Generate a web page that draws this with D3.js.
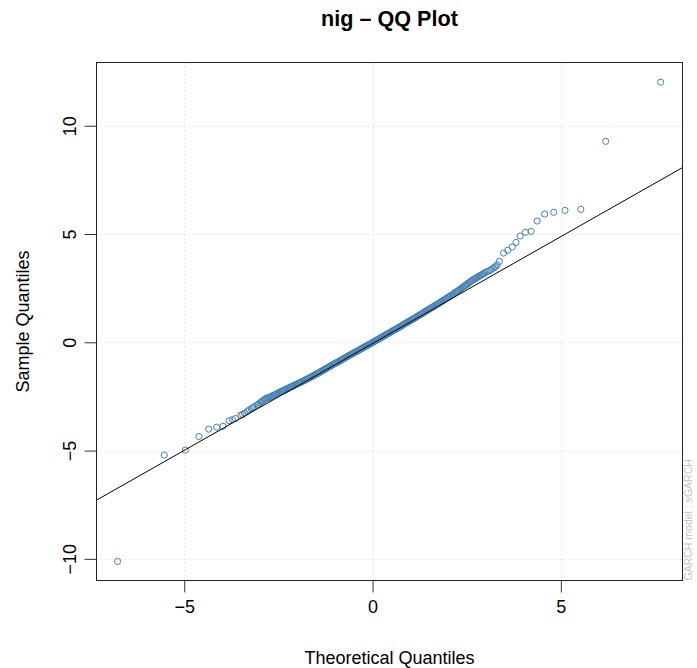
<!DOCTYPE html>
<html lang="en">
<head>
    <meta charset="UTF-8">
    <title>nig - QQ Plot</title>
    <script src="https://d3js.org/d3.v7.min.js"></script>
    <style>
        body { margin: 0; background: #fff; }
        text { font-family: "Liberation Sans", Arial, Helvetica, sans-serif; }
    </style>
</head>
<body>
<script>

    // theoretical (nig) quantiles and sorted standardized residuals
    // (the middle of the plot is a dense band, so it is sampled finely)
    var theoretical = [
        -6.77, -5.53, -4.97, -4.61, -4.35, -4.14, -3.97, -3.81, -3.72, -3.64,
        -3.50, -3.40, -3.32, -3.22, -3.14, -3.07, -2.99, -2.93, -2.87, -2.81,
        -3.45, -3.27, -3.18, -3.03, -2.96, -2.90, -2.84,
        -2.78, -2.75, -2.72, -2.69, -2.66, -2.63, -2.60, -2.57, -2.54, -2.51,
        -2.48, -2.45, -2.42, -2.39, -2.36, -2.33, -2.30, -2.27, -2.24, -2.21,
        -2.18, -2.15, -2.12, -2.09, -2.06, -2.03, -2.00, -1.97, -1.94, -1.91,
        -1.88, -1.85, -1.82, -1.79, -1.76, -1.73, -1.70, -1.67, -1.64, -1.61,
        -1.58, -1.55, -1.52, -1.49, -1.46, -1.43, -1.40, -1.37, -1.34, -1.31,
        -1.28, -1.25, -1.22, -1.19, -1.16, -1.13, -1.10, -1.07, -1.04, -1.01,
        -0.98, -0.95, -0.92, -0.89, -0.86, -0.83, -0.80, -0.77, -0.74, -0.71,
        -0.68, -0.65, -0.62, -0.59, -0.56, -0.53, -0.50, -0.47, -0.44, -0.41,
        -0.38, -0.35, -0.32, -0.29, -0.26, -0.23, -0.20, -0.17, -0.14, -0.11,
        -0.08, -0.05, -0.02, 0.01, 0.04, 0.07, 0.10, 0.13, 0.16, 0.19,
        0.22, 0.25, 0.28, 0.31, 0.34, 0.37, 0.40, 0.43, 0.46, 0.49,
        0.52, 0.55, 0.58, 0.61, 0.64, 0.67, 0.70, 0.73, 0.76, 0.79,
        0.82, 0.85, 0.88, 0.91, 0.94, 0.97, 1.00, 1.03, 1.06, 1.09,
        1.12, 1.15, 1.18, 1.21, 1.24, 1.27, 1.30, 1.33, 1.36, 1.39,
        1.42, 1.45, 1.48, 1.51, 1.54, 1.57, 1.60, 1.63, 1.66, 1.69,
        1.72, 1.75, 1.78, 1.81, 1.84, 1.87, 1.90, 1.93, 1.96, 1.99,
        2.02, 2.05, 2.08, 2.11, 2.14, 2.17, 2.20, 2.23, 2.26, 2.29,
        2.32, 2.35, 2.38, 2.41, 2.44, 2.47, 2.50, 2.53, 2.56, 2.59,
        2.62, 2.65, 2.68, 2.71, 2.74, 2.77, 2.80, 2.83, 2.86, 2.89,
        2.92, 2.95, 2.98, 3.02,
        3.07, 3.16, 3.24, 3.31,
        3.12, 3.20, 3.27, 3.37, 3.48, 3.59, 3.71, 3.81, 3.92, 4.06,
        4.21, 4.37, 4.57, 4.81, 5.11, 5.53, 6.19, 7.65
    ];
    var sample = [
        -10.12, -5.21, -4.98, -4.35, -4.01, -3.92, -3.88, -3.62, -3.57, -3.52,
        -3.37, -3.27, -3.18, -3.07, -2.97, -2.90, -2.80, -2.72, -2.65, -2.57,
        -3.33, -3.12, -3.02, -2.85, -2.76, -2.69, -2.61,
        -2.58, -2.56, -2.53, -2.51, -2.47, -2.46, -2.42, -2.40, -2.38, -2.35,
        -2.31, -2.30, -2.27, -2.25, -2.22, -2.20, -2.17, -2.15, -2.12, -2.10,
        -2.07, -2.05, -2.02, -2.00, -1.97, -1.95, -1.92, -1.90, -1.87, -1.85,
        -1.82, -1.80, -1.77, -1.74, -1.72, -1.69, -1.66, -1.64, -1.61, -1.58,
        -1.55, -1.52, -1.49, -1.46, -1.44, -1.41, -1.38, -1.35, -1.32, -1.29,
        -1.26, -1.23, -1.20, -1.17, -1.14, -1.11, -1.08, -1.05, -1.02, -0.99,
        -0.96, -0.94, -0.91, -0.88, -0.85, -0.82, -0.79, -0.76, -0.73, -0.70,
        -0.67, -0.64, -0.61, -0.58, -0.55, -0.52, -0.49, -0.46, -0.44, -0.41,
        -0.38, -0.35, -0.32, -0.29, -0.26, -0.23, -0.20, -0.17, -0.15, -0.12,
        -0.09, -0.06, -0.03, 0.00, 0.03, 0.06, 0.09, 0.12, 0.15, 0.18,
        0.21, 0.24, 0.27, 0.30, 0.33, 0.36, 0.39, 0.42, 0.45, 0.48,
        0.51, 0.54, 0.57, 0.60, 0.63, 0.66, 0.69, 0.72, 0.75, 0.78,
        0.82, 0.85, 0.88, 0.91, 0.94, 0.97, 1.00, 1.03, 1.06, 1.09,
        1.12, 1.15, 1.19, 1.22, 1.25, 1.28, 1.31, 1.34, 1.38, 1.41,
        1.44, 1.47, 1.50, 1.54, 1.57, 1.60, 1.63, 1.66, 1.70, 1.73,
        1.76, 1.79, 1.83, 1.86, 1.89, 1.92, 1.96, 1.99, 2.02, 2.06,
        2.09, 2.12, 2.16, 2.19, 2.22, 2.26, 2.30, 2.33, 2.37, 2.40,
        2.44, 2.48, 2.52, 2.56, 2.60, 2.63, 2.67, 2.71, 2.75, 2.79,
        2.83, 2.86, 2.90, 2.93, 2.96, 2.99, 3.02, 3.05, 3.08, 3.11,
        3.14, 3.17, 3.21, 3.25,
        3.28, 3.37, 3.46, 3.58,
        3.32, 3.42, 3.50, 3.74, 4.12, 4.25, 4.40, 4.61, 4.91, 5.08,
        5.12, 5.60, 5.92, 6.00, 6.09, 6.14, 9.28, 12.01
    ];

    var xTicks = [-5, 0, 5];
    var yTicks = [-10, -5, 0, 5, 10];

    // qqline through the quartiles
    var lineSlope = 0.987;
    var lineIntercept = -0.055;

    var titleText = "nig \u2013 QQ Plot";
    var xLabel = "Theoretical Quantiles";
    var yLabel = "Sample Quantiles";
    var sideNote = "GARCH model : sGARCH";

    var width = 697;
    var height = 668;
    var plot = { left: 96.5, right: 682.5, top: 62.5, bottom: 580.5 };

    var svg = d3.select("body")
        .append("svg")
        .attr("width", width)
        .attr("height", height);

    var x = d3.scaleLinear()
        .domain([-7.33, 8.23])
        .range([plot.left, plot.right]);

    var y = d3.scaleLinear()
        .domain([-11.0, 12.92])
        .range([plot.bottom, plot.top]);

    svg.append("clipPath")
        .attr("id", "plotclip")
        .append("rect")
        .attr("x", plot.left)
        .attr("y", plot.top)
        .attr("width", plot.right - plot.left)
        .attr("height", plot.bottom - plot.top);

    // dotted grid
    svg.selectAll(".vgrid")
        .data(xTicks)
        .enter()
        .append("line")
        .attr("class", "vgrid")
        .attr("x1", function(d) { return Math.round(x(d)) + 0.5; })
        .attr("x2", function(d) { return Math.round(x(d)) + 0.5; })
        .attr("y1", plot.top)
        .attr("y2", plot.bottom)
        .style("stroke", "#d3d3d3")
        .style("stroke-dasharray", "1,3");

    svg.selectAll(".hgrid")
        .data(yTicks)
        .enter()
        .append("line")
        .attr("class", "hgrid")
        .attr("y1", function(d) { return Math.round(y(d)) + 0.5; })
        .attr("y2", function(d) { return Math.round(y(d)) + 0.5; })
        .attr("x1", plot.left)
        .attr("x2", plot.right)
        .style("stroke", "#d3d3d3")
        .style("stroke-dasharray", "1,3");

    // points
    var n = Math.min(theoretical.length, sample.length);
    var pts = [];
    for (var i = 0; i < n; i++) {
        pts.push({ t: theoretical[i], s: sample[i] });
    }

    svg.append("g")
        .attr("clip-path", "url(#plotclip)")
        .selectAll("circle")
        .data(pts)
        .enter()
        .append("circle")
        .attr("cx", function(d) { return x(d.t); })
        .attr("cy", function(d) { return y(d.s); })
        .attr("r", 3.1)
        .style("fill", "none")
        .style("stroke", "steelblue")
        .style("stroke-width", 1);

    // qqline
    var xd = x.domain();
    svg.append("line")
        .attr("clip-path", "url(#plotclip)")
        .attr("x1", x(xd[0]))
        .attr("y1", y(lineIntercept + lineSlope * xd[0]))
        .attr("x2", x(xd[1]))
        .attr("y2", y(lineIntercept + lineSlope * xd[1]))
        .style("stroke", "#000")
        .style("stroke-width", 1);

    // frame
    svg.append("rect")
        .attr("x", plot.left)
        .attr("y", plot.top)
        .attr("width", plot.right - plot.left)
        .attr("height", plot.bottom - plot.top)
        .style("fill", "none")
        .style("stroke", "#222")
        .style("stroke-width", 1);

    // axes
    var minusFmt = function(d) { return d < 0 ? "\u2212" + Math.abs(d) : d; };

    var gx = svg.append("g")
        .attr("transform", "translate(0," + plot.bottom + ")")
        .call(d3.axisBottom(x).tickValues(xTicks).tickSize(12).tickPadding(8).tickFormat(minusFmt));
    gx.select(".domain").remove();
    gx.selectAll("line").style("stroke", "#333");
    gx.selectAll("text")
        .style("font-size", "18px")
        .style("fill", "#000")
        .attr("font-family", null);

    var gy = svg.append("g")
        .attr("transform", "translate(" + plot.left + ",0)")
        .call(d3.axisLeft(y).tickValues(yTicks).tickSize(12).tickPadding(8).tickFormat(minusFmt));
    gy.select(".domain").remove();
    gy.selectAll("line").style("stroke", "#333");
    gy.selectAll("text")
        .style("font-size", "18px")
        .style("fill", "#000")
        .attr("font-family", null)
        .attr("x", null)
        .attr("dy", null)
        .attr("text-anchor", "middle")
        .attr("transform", "translate(-21,0) rotate(-90)");

    // titles
    svg.append("text")
        .attr("x", (plot.left + plot.right) / 2)
        .attr("y", 26)
        .attr("text-anchor", "middle")
        .style("font-size", "21.6px")
        .style("font-weight", "bold")
        .text(titleText);

    svg.append("text")
        .attr("x", (plot.left + plot.right) / 2)
        .attr("y", 664)
        .attr("text-anchor", "middle")
        .style("font-size", "18px")
        .text(xLabel);

    svg.append("text")
        .attr("transform", "translate(29," + (plot.top + plot.bottom) / 2 + ") rotate(-90)")
        .attr("text-anchor", "middle")
        .style("font-size", "18px")
        .text(yLabel);

    // small grey model note on the right margin
    svg.append("text")
        .attr("transform", "translate(692," + plot.bottom + ") rotate(-90)")
        .attr("text-anchor", "start")
        .style("font-size", "10.5px")
        .style("fill", "#c4c4c4")
        .text(sideNote);

</script>
</body>
</html>
